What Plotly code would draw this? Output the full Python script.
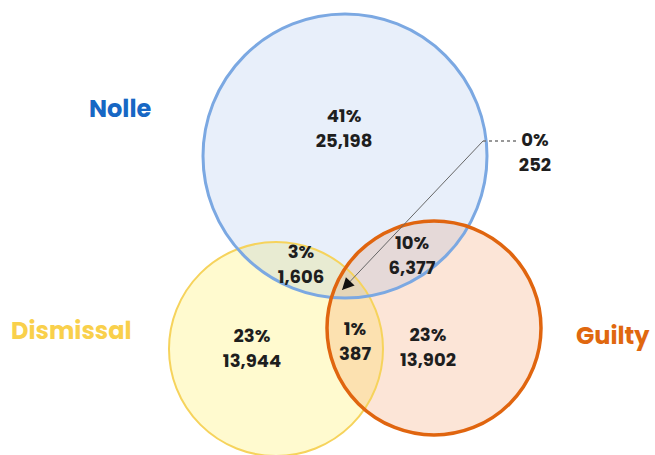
import plotly.graph_objects as go

# Case outcomes: counts per Venn region
set_names = ["Nolle", "Dismissal", "Guilty"]
region_names = ["Nolle only", "Nolle & Dismissal", "Nolle & Guilty",
                "All three", "Dismissal & Guilty", "Dismissal only", "Guilty only"]
region_counts = [25198, 1606, 6377, 252, 387, 13944, 13902]

total = sum(region_counts)
region_pcts = [round(c / total * 100) for c in region_counts]

# Layout geometry (pixel space, y grows downward)
W, H = 655, 455
circles = {
    "Nolle":     dict(cx=345, cy=156, r=142, fill="rgba(120,160,225,0.17)", line="#7ba8e2", lw=3),
    "Dismissal": dict(cx=276, cy=349, r=107, fill="rgba(255,243,130,0.38)", line="#f6d35c", lw=2),
    "Guilty":    dict(cx=434, cy=328, r=107, fill="rgba(238,125,55,0.2)", line="#e0650f", lw=3.5),
}
fill_order = ["Dismissal", "Guilty", "Nolle"]
line_order = ["Dismissal", "Nolle", "Guilty"]

set_label_pos = {"Nolle": (120, 108), "Dismissal": (71, 330), "Guilty": (613, 335)}
set_label_color = {"Nolle": "#1767c4", "Dismissal": "#f9d04b", "Guilty": "#e0680f"}

# label anchor (x, y of the percentage line) for each region
region_pos = {
    "Nolle only": (344, 117),
    "Nolle & Dismissal": (301, 253),
    "Nolle & Guilty": (412, 244),
    "All three": (535, 141),
    "Dismissal & Guilty": (355, 330),
    "Dismissal only": (252, 337),
    "Guilty only": (428, 336),
}
line_gap = 25

FONT = "Poppins, Inter, Lato, sans-serif"

fig = go.Figure()


def circle_shape(c, **style):
    return dict(type="circle", xref="x", yref="y", layer="below",
                x0=c["cx"] - c["r"], x1=c["cx"] + c["r"],
                y0=c["cy"] - c["r"], y1=c["cy"] + c["r"], **style)


shapes = []
for name in fill_order:
    c = circles[name]
    shapes.append(circle_shape(c, fillcolor=c["fill"], line=dict(width=0)))
for name in line_order:
    c = circles[name]
    shapes.append(circle_shape(c, fillcolor="rgba(0,0,0,0)",
                               line=dict(color=c["line"], width=c["lw"])))

# leader from the triple-overlap label to its region
lead_start = (483, 141)
lead_tip = (342, 290)
shapes.append(dict(type="line", xref="x", yref="y", layer="above",
                   x0=lead_start[0], y0=lead_start[1], x1=518, y1=lead_start[1],
                   line=dict(color="#777777", width=1.5, dash="dot")))
shapes.append(dict(type="line", xref="x", yref="y", layer="above",
                   x0=lead_start[0], y0=lead_start[1], x1=lead_tip[0], y1=lead_tip[1],
                   line=dict(color="#666666", width=1)))

dx, dy = lead_tip[0] - lead_start[0], lead_tip[1] - lead_start[1]
norm = (dx ** 2 + dy ** 2) ** 0.5
tail = (lead_tip[0] - 12 * dx / norm, lead_tip[1] - 12 * dy / norm)

annotations = [dict(x=lead_tip[0], y=lead_tip[1], ax=tail[0], ay=tail[1],
                    xref="x", yref="y", axref="x", ayref="y", text="",
                    showarrow=True, arrowhead=2, arrowsize=1.6, arrowwidth=1.5,
                    arrowcolor="#111111")]

for name in set_names:
    x, y = set_label_pos[name]
    annotations.append(dict(x=x, y=y, xref="x", yref="y", text=f"<b>{name}</b>",
                            showarrow=False,
                            font=dict(family=FONT, size=24, color=set_label_color[name])))

xs = [region_pos[n][0] for n in region_names]
ys = [region_pos[n][1] for n in region_names]
fig.add_trace(go.Scatter(
    x=xs, y=ys, mode="text", hoverinfo="skip",
    text=[f"<b>{p}%</b>" for p in region_pcts],
    textfont=dict(family=FONT, size=18, color="#1e1e1e"),
))
fig.add_trace(go.Scatter(
    x=xs, y=[y + line_gap for y in ys], mode="text", hoverinfo="skip",
    text=[f"<b>{c:,}</b>" for c in region_counts],
    textfont=dict(family=FONT, size=18, color="#1e1e1e"),
))

fig.update_layout(
    width=W, height=H, margin=dict(l=0, r=0, t=0, b=0),
    paper_bgcolor="white", plot_bgcolor="white", showlegend=False,
    shapes=shapes, annotations=annotations,
    xaxis=dict(range=[0, W], visible=False, fixedrange=True),
    yaxis=dict(range=[H, 0], visible=False, fixedrange=True),
)

fig.write_html("out.html")
